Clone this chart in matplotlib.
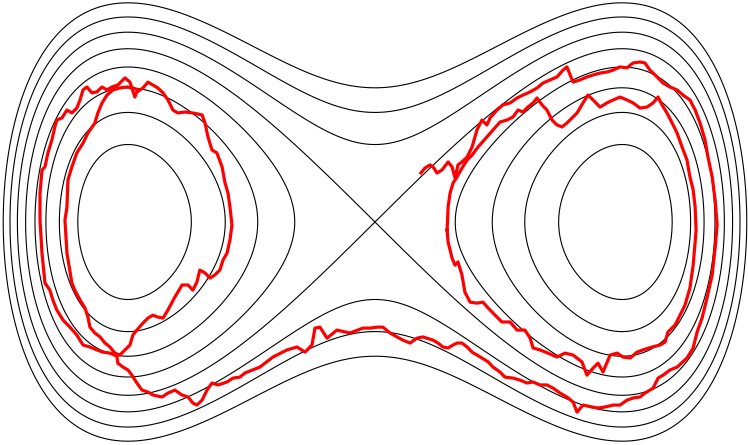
import numpy as np
import matplotlib
matplotlib.use("Agg")
import matplotlib.pyplot as plt

# Energy levels of H(x, p) = p^2/2 + x^4/4 - x^2/2
levels = [-0.2, -0.15, -0.1, -0.05, 0.0, 0.05, 0.1, 0.15]

# Noisy trajectory (main path)
traj_x = [
    -0.960, -0.980, -1.004, -1.033, -1.061, -1.085, -1.105, -1.122, -1.134, -1.162,
    -1.182, -1.207, -1.227, -1.243, -1.247, -1.255, -1.247, -1.227, -1.215, -1.194,
    -1.174, -1.162, -1.154, -1.134, -1.113, -1.093, -1.073, -1.053, -1.033,
    -1.012, -0.992, -0.980, -0.964, -0.939, -0.919, -0.899, -0.879, -0.858, -0.838,
    -0.810, -0.781, -0.757, -0.737, -0.721, -0.709, -0.688, -0.668, -0.648, -0.628,
    -0.615, -0.599, -0.587, -0.579,
    -0.587, -0.595, -0.607, -0.619, -0.640, -0.660, -0.676, -0.688, -0.700, -0.737,
    -0.769, -0.798, -0.818, -0.838, -0.858, -0.879, -0.899, -0.919, -0.939, -0.964,
    -0.972, -0.992, -1.012, -1.041, -1.065, -1.085, -1.105, -1.126, -1.146, -1.166,
    -1.182, -1.194, -1.207, -1.227, -1.247, -1.267, -1.288, -1.296, -1.308, -1.324,
    -1.336, -1.348, -1.356, -1.356, -1.348, -1.336, -1.316, -1.304, -1.288, -1.263,
    -1.235, -1.207, -1.182, -1.154, -1.126, -1.101, -1.073, -1.045,
    -1.041, -1.020, -1.000, -0.984, -0.964, -0.943, -0.919, -0.899, -0.862, -0.838,
    -0.810, -0.781, -0.757, -0.737, -0.721, -0.700, -0.680, -0.660, -0.636, -0.599,
    -0.575, -0.547, -0.526, -0.466, -0.413, -0.356, -0.316, -0.283, -0.255, -0.243,
    -0.223, -0.194, -0.154, -0.101, -0.049, -0.020, 0.008, 0.032, 0.061, 0.089,
    0.113, 0.142, 0.170, 0.194, 0.235, 0.255, 0.275, 0.296, 0.316, 0.332,
    0.352, 0.373, 0.393, 0.413, 0.433, 0.458, 0.478, 0.506, 0.526, 0.559,
    0.587, 0.615, 0.640, 0.668, 0.696, 0.721, 0.749, 0.777, 0.802, 0.818,
    0.842, 0.879, 0.903, 0.931, 0.964, 0.992, 1.020, 1.045, 1.073, 1.093,
    1.126, 1.146, 1.166, 1.194, 1.223, 1.263, 1.288, 1.304, 1.324, 1.344,
    1.365, 1.377, 1.385,
    1.377, 1.365, 1.348, 1.336, 1.316, 1.296, 1.275, 1.247, 1.223, 1.194,
    1.166, 1.142, 1.113, 1.093, 1.073, 1.045, 1.020, 0.992, 0.964, 0.939,
    0.911, 0.883, 0.858, 0.830, 0.802, 0.790, 0.777, 0.761, 0.737, 0.709,
    0.680, 0.656, 0.628, 0.599, 0.575, 0.547, 0.518, 0.494, 0.466, 0.453,
    0.433, 0.413, 0.393, 0.373, 0.352, 0.336, 0.324, 0.312, 0.296, 0.271,
    0.251, 0.235, 0.223, 0.202, 0.186,
]
traj_p = [
    0.539, 0.547, 0.551, 0.547, 0.539, 0.518, 0.486, 0.445, 0.404, 0.363,
    0.322, 0.282, 0.225, 0.171, 0.061, 0.008, -0.127, -0.249, -0.278, -0.318,
    -0.351, -0.388, -0.429, -0.453, -0.469, -0.494, -0.510, -0.535, -0.543,
    -0.522, -0.502, -0.461, -0.441, -0.412, -0.392, -0.380, -0.388, -0.392, -0.359,
    -0.306, -0.257, -0.257, -0.278, -0.245, -0.196, -0.208, -0.229, -0.216, -0.196,
    -0.155, -0.127, -0.073, -0.012,
    0.061, 0.118, 0.159, 0.225, 0.282, 0.294, 0.347, 0.404, 0.437, 0.445,
    0.449, 0.445, 0.457, 0.498, 0.527, 0.547, 0.559, 0.571, 0.547, 0.531,
    0.510, 0.571, 0.588, 0.559, 0.551, 0.539, 0.551, 0.531, 0.527, 0.551,
    0.539, 0.498, 0.465, 0.445, 0.457, 0.425, 0.416, 0.388, 0.335, 0.282,
    0.225, 0.212, 0.118, 0.008, -0.127, -0.249, -0.278, -0.318, -0.359, -0.400,
    -0.429, -0.461, -0.502, -0.510, -0.522, -0.531, -0.535, -0.547,
    -0.576, -0.592, -0.604, -0.625, -0.657, -0.686, -0.694, -0.706, -0.714, -0.698,
    -0.686, -0.706, -0.714, -0.739, -0.747, -0.727, -0.686, -0.657, -0.665, -0.653,
    -0.637, -0.633, -0.616, -0.592, -0.551, -0.522, -0.510, -0.531, -0.502, -0.433,
    -0.429, -0.474, -0.441, -0.453, -0.433, -0.433, -0.429, -0.429, -0.453, -0.469,
    -0.482, -0.494, -0.474, -0.469, -0.482, -0.494, -0.510, -0.514, -0.502, -0.494,
    -0.494, -0.510, -0.531, -0.543, -0.555, -0.571, -0.592, -0.612, -0.633, -0.637,
    -0.645, -0.657, -0.653, -0.665, -0.665, -0.678, -0.698, -0.714, -0.735, -0.776,
    -0.747, -0.755, -0.759, -0.755, -0.747, -0.747, -0.727, -0.718, -0.714, -0.698,
    -0.678, -0.637, -0.625, -0.604, -0.592, -0.555, -0.514, -0.449, -0.392, -0.310,
    -0.216, -0.106, -0.012,
    0.090, 0.184, 0.265, 0.335, 0.404, 0.457, 0.498, 0.518, 0.539, 0.551,
    0.567, 0.592, 0.620, 0.649, 0.653, 0.649, 0.629, 0.633, 0.620, 0.612,
    0.608, 0.600, 0.592, 0.580, 0.571, 0.600, 0.633, 0.620, 0.592, 0.580,
    0.567, 0.547, 0.531, 0.518, 0.506, 0.486, 0.478, 0.457, 0.425, 0.396,
    0.416, 0.376, 0.306, 0.265, 0.245, 0.233, 0.180, 0.225, 0.245, 0.212,
    0.200, 0.225, 0.233, 0.220, 0.200,
]

# Noisy trajectory (loop around the right well)
loop_x = [
    0.292, 0.296, 0.304, 0.316, 0.332, 0.352, 0.373, 0.393, 0.417, 0.453,
    0.478, 0.506, 0.534, 0.559, 0.579, 0.599, 0.619, 0.640, 0.656, 0.676,
    0.696, 0.717, 0.737, 0.757, 0.777, 0.798, 0.818, 0.842, 0.862, 0.883,
    0.911, 0.939, 0.964, 0.992, 1.020, 1.045, 1.073, 1.101, 1.126, 1.146,
    1.162, 1.182, 1.203, 1.223, 1.243, 1.263, 1.275, 1.288, 1.296, 1.300,
    1.296, 1.288, 1.275, 1.255, 1.235, 1.215, 1.186, 1.174, 1.154, 1.122,
    1.085, 1.061, 1.033, 1.004, 0.980, 0.952, 0.923, 0.903, 0.883, 0.858,
    0.838, 0.802, 0.769, 0.737, 0.700, 0.668, 0.640, 0.628, 0.607, 0.575,
    0.547, 0.514, 0.486, 0.458, 0.437, 0.413, 0.385, 0.364, 0.352, 0.336,
    0.324, 0.312, 0.296, 0.292,
]
loop_p = [
    -0.033, 0.061, 0.118, 0.159, 0.184, 0.220, 0.253, 0.273, 0.306, 0.347,
    0.376, 0.408, 0.416, 0.429, 0.457, 0.449, 0.469, 0.486, 0.506, 0.478,
    0.457, 0.416, 0.396, 0.388, 0.404, 0.425, 0.445, 0.486, 0.518, 0.498,
    0.469, 0.486, 0.498, 0.510, 0.498, 0.486, 0.465, 0.469, 0.486, 0.510,
    0.478, 0.445, 0.404, 0.363, 0.306, 0.253, 0.184, 0.131, 0.061, -0.033,
    -0.082, -0.176, -0.269, -0.339, -0.380, -0.420, -0.449, -0.490, -0.502, -0.510,
    -0.522, -0.531, -0.555, -0.551, -0.535, -0.543, -0.612, -0.576, -0.596, -0.625,
    -0.571, -0.543, -0.535, -0.551, -0.535, -0.522, -0.514, -0.474, -0.441, -0.441,
    -0.408, -0.408, -0.380, -0.351, -0.327, -0.331, -0.327, -0.286, -0.216, -0.163,
    -0.176, -0.147, -0.082, -0.033,
]

fig = plt.figure(figsize=(7.48, 4.45), dpi=100)
ax = fig.add_axes([0, 0, 1, 1])

xg = np.linspace(-1.7, 1.7, 700)
pg = np.linspace(-1.1, 1.1, 500)
X, P = np.meshgrid(xg, pg)
H = P**2 / 2 + X**4 / 4 - X**2 / 2
ax.contour(X, P, H, levels=levels, colors="black", linewidths=0.8,
           linestyles="solid")

ax.plot(traj_x, traj_p, color="#ff0000", lw=2.3, solid_joinstyle="round", zorder=3)
ax.plot(loop_x, loop_p, color="#ff0000", lw=2.3, solid_joinstyle="round", zorder=3)

ax.set_xlim(-1.518, 1.510)
ax.set_ylim(-0.910, 0.906)
ax.axis("off")

fig.savefig("out.png", dpi=100)
